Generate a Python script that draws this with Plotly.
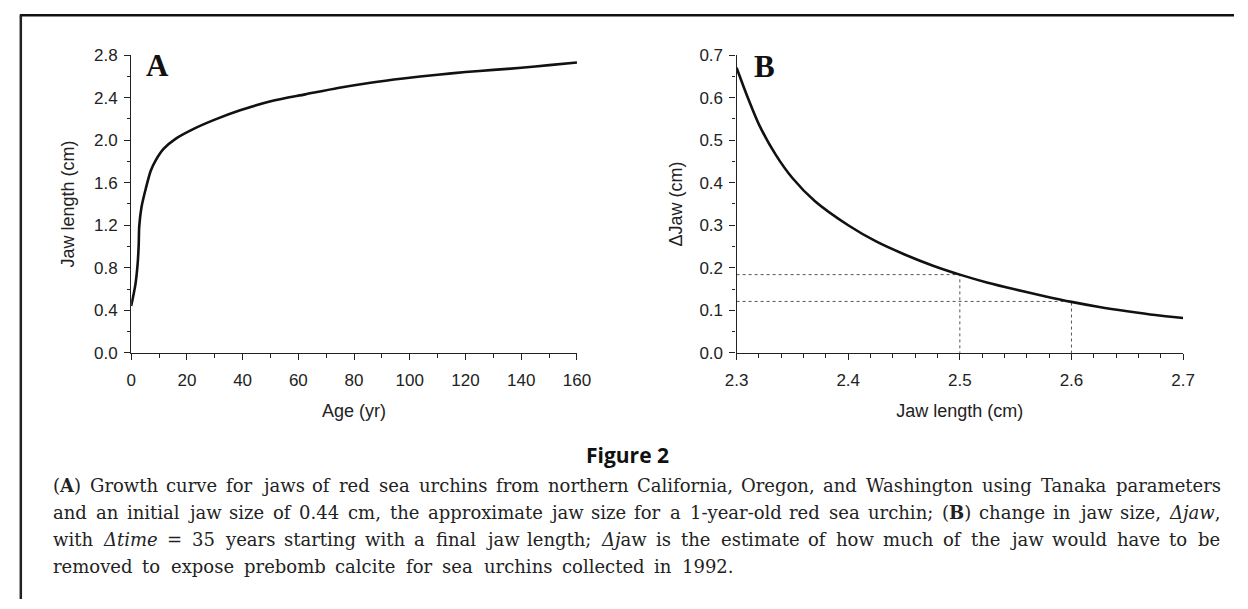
import re
import plotly.graph_objects as go

W, H = 1248, 609

# ---- data ----
age_yr = [0, 1.5, 2.3, 2.7, 2.9, 3.7, 5.3, 7.0, 8.8, 11.7, 15.8, 22.8, 29.8, 39.1,
          50.8, 62.5, 74.2, 85.9, 97.6, 110, 120, 130, 140, 150, 160]
jaw_len_cm = [0.44, 0.64, 0.83, 1.01, 1.19, 1.37, 1.55, 1.71, 1.81, 1.92, 2.01, 2.11,
              2.19, 2.28, 2.37, 2.43, 2.49, 2.54, 2.58, 2.615, 2.64, 2.66, 2.68, 2.705, 2.73]

final_jaw_cm = [2.300, 2.310, 2.320, 2.335, 2.350, 2.370, 2.400, 2.425, 2.450, 2.476,
                2.500, 2.525, 2.550, 2.575, 2.600, 2.625, 2.650, 2.675, 2.700]
delta_jaw_cm = [0.670, 0.600, 0.537, 0.466, 0.411, 0.357, 0.300, 0.262, 0.232, 0.205,
                0.184, 0.165, 0.149, 0.134, 0.120, 0.108, 0.098, 0.089, 0.082]

ref_jaw_cm = [2.5, 2.6]
ref_delta_cm = [0.184, 0.121]

a_xticks = [0, 20, 40, 60, 80, 100, 120, 140, 160]
a_yticks = [0.0, 0.4, 0.8, 1.2, 1.6, 2.0, 2.4, 2.8]
b_xticks = [2.3, 2.4, 2.5, 2.6, 2.7]
b_yticks = [0.0, 0.1, 0.2, 0.3, 0.4, 0.5, 0.6, 0.7]

caption_lines = [
    "(<b>A</b>) Growth curve for jaws of red sea urchins from northern California, Oregon, and Washington using Tanaka parameters",
    "and an initial jaw size of 0.44 cm, the approximate jaw size for a 1-year-old red sea urchin; (<b>B</b>) change in jaw size, <i>Δjaw</i>,",
    "with <i>Δtime</i> = 35 years starting with a final jaw length; <i>Δj</i>aw is the estimate of how much of the jaw would have to be",
    "removed to expose prebomb calcite for sea urchins collected in 1992.",
]


def px(x):
    return x / W


def py(y):
    return 1 - y / H


fig = go.Figure()

fig.add_trace(go.Scatter(x=age_yr, y=jaw_len_cm, mode="lines",
                         line=dict(color="#111", width=2.6, shape="spline", smoothing=0.7),
                         xaxis="x", yaxis="y", showlegend=False, hoverinfo="skip"))

for rj, rd in zip(ref_jaw_cm, ref_delta_cm):
    fig.add_trace(go.Scatter(x=[b_xticks[0], rj, rj], y=[rd, rd, 0], mode="lines",
                             line=dict(color="#555", width=1, dash="dot"),
                             xaxis="x2", yaxis="y2", showlegend=False, hoverinfo="skip"))

fig.add_trace(go.Scatter(x=final_jaw_cm, y=delta_jaw_cm, mode="lines",
                         line=dict(color="#111", width=2.6, shape="spline", smoothing=0.7),
                         xaxis="x2", yaxis="y2", showlegend=False, hoverinfo="skip"))

SANS = "Liberation Sans, Arial, Helvetica, sans-serif"
tickfont = dict(family=SANS, size=17, color="#222")
titlefont = dict(family=SANS, size=18, color="#222")

common = dict(showgrid=False, zeroline=False, showline=True, linecolor="#222", linewidth=1.3,
              ticks="outside", ticklen=6, tickwidth=1.2, tickcolor="#222", tickfont=tickfont)
minor_common = dict(ticklen=3.5, ticks="outside", tickcolor="#222", tickwidth=1)

ydom = [py(355), py(47.5)]

fig.update_layout(
    width=W, height=H, margin=dict(l=0, r=0, t=0, b=0),
    paper_bgcolor="white", plot_bgcolor="white",
    xaxis=dict(domain=[px(121.7), px(577)], range=[0, 160], tickvals=a_xticks,
               minor=dict(dtick=10, **minor_common), ticklabelstandoff=6,
               title=dict(text="Age (yr)", font=titlefont, standoff=14), anchor="y", **common),
    yaxis=dict(domain=ydom, range=[0, 2.8], tickvals=a_yticks, tickformat=".1f",
               minor=dict(dtick=0.2, **minor_common), ticklabelstandoff=3,
               title=dict(text="Jaw length (cm)", font=titlefont, standoff=14), anchor="x", **common),
    xaxis2=dict(domain=[px(740), px(1196)], range=[2.3, 2.7], tickvals=b_xticks, tickformat=".1f",
                minor=dict(dtick=0.02, **minor_common), ticklabelstandoff=6,
                title=dict(text="Jaw length (cm)", font=titlefont, standoff=14), anchor="y2", **common),
    yaxis2=dict(domain=ydom, range=[0, 0.7], tickvals=b_yticks, tickformat=".1f",
                minor=dict(dtick=0.05, **minor_common), ticklabelstandoff=3,
                title=dict(text="ΔJaw (cm)", font=titlefont, standoff=12), anchor="x2", **common),
)

annots = []
SERIF_B = dict(family="Liberation Serif, Times New Roman, serif", size=31, color="#111")
annots.append(dict(text="<b>A</b>", x=px(149), y=py(58), xref="paper", yref="paper",
                   xanchor="center", yanchor="middle", showarrow=False, font=SERIF_B))
annots.append(dict(text="<b>B</b>", x=px(768), y=py(59), xref="paper", yref="paper",
                   xanchor="center", yanchor="middle", showarrow=False, font=SERIF_B))
annots.append(dict(text="<b>Figure 2</b>", x=px(629), y=py(460), xref="paper", yref="paper",
                   xanchor="center", yanchor="middle", showarrow=False,
                   font=dict(family="Open Sans, sans-serif", size=21, color="#111")))

# --- caption, justified word by word (approximate DejaVu Serif advance widths, em) ---
CAP_SIZE = 18
CW = {" ": 0.318, "a": 0.596, "b": 0.640, "c": 0.560, "d": 0.640, "e": 0.592, "f": 0.370,
      "g": 0.640, "h": 0.644, "i": 0.320, "j": 0.310, "k": 0.606, "l": 0.320, "m": 0.948,
      "n": 0.644, "o": 0.602, "p": 0.640, "q": 0.640, "r": 0.478, "s": 0.513, "t": 0.402,
      "u": 0.644, "v": 0.565, "w": 0.856, "x": 0.564, "y": 0.565, "z": 0.523,
      ".": 0.318, ",": 0.318, ";": 0.337, ":": 0.337, "(": 0.390, ")": 0.390, "-": 0.338,
      "=": 0.838, "Δ": 0.750, "A": 0.760, "B": 0.780, "C": 0.765, "G": 0.775, "O": 0.787,
      "T": 0.704, "W": 1.030, "M": 0.995}


def word_w(word):
    plain = re.sub(r"</?[bi]>", "", word)
    tot = 0.0
    for ch in plain:
        if ch in CW:
            tot += CW[ch]
        elif ch.isdigit():
            tot += 0.636
        elif ch.isupper():
            tot += 0.74
        else:
            tot += 0.60
    return tot * CAP_SIZE


cap_left = 41
cap_rights = [1232, 1232, 1232, 735]
line_y = [492, 520, 548, 575]
for t, yy, right in zip(caption_lines, line_y, cap_rights):
    words = t.split(" ")
    widths = [word_w(w) for w in words]
    gap = (right - cap_left - sum(widths)) / (len(words) - 1)
    x = cap_left
    for w, ww in zip(words, widths):
        annots.append(dict(text=w, x=px(x), y=py(yy), xref="paper", yref="paper", xanchor="left",
                           yanchor="middle", showarrow=False, borderpad=0,
                           font=dict(family="DejaVu Serif, serif", size=CAP_SIZE, color="#222")))
        x += ww + gap

fig.update_layout(annotations=annots)

fig.update_layout(shapes=[
    dict(type="line", xref="paper", yref="paper", x0=px(8), x1=1, y0=py(6.5), y1=py(6.5),
         line=dict(color="#111", width=2.5)),
    dict(type="line", xref="paper", yref="paper", x0=px(9), x1=px(9), y0=py(6.5), y1=0,
         line=dict(color="#222", width=2.5)),
])

fig.write_html("out.html")
